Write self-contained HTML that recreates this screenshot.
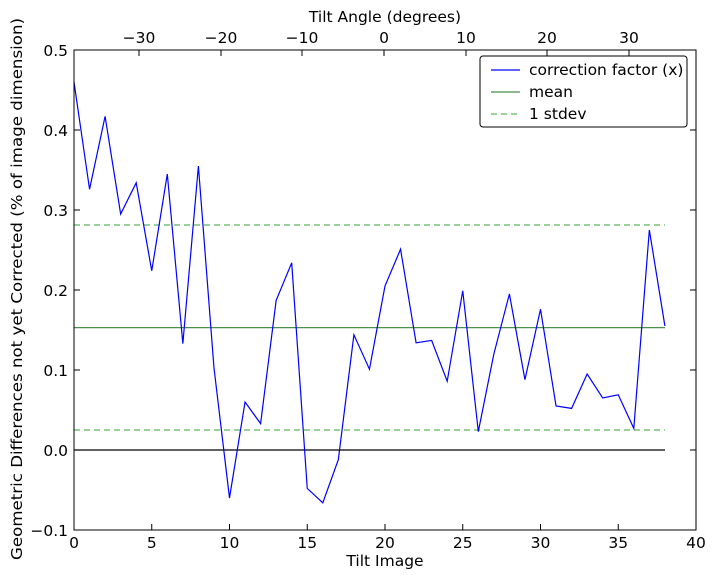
<!DOCTYPE html>
<html><head><meta charset="utf-8"><style>body{margin:0;background:#fff}svg{display:block}text{font-family:"DejaVu Sans","Liberation Sans",sans-serif;font-size:15.5px;fill:#000}</style></head>
<body>
<svg width="714" height="579" viewBox="0 0 714 579">
<rect width="714" height="579" fill="#fff"/>
<g stroke="#000" stroke-width="1">
<path d="M74 50h6M74 130h6M74 210h6M74 290h6M74 370h6M74 450h6M74 530h6M696 50h-6M696 130h-6M696 210h-6M696 290h-6M696 370h-6M696 450h-6M696 530h-6"/>
<path d="M74 530v-6M151.75 530v-6M229.5 530v-6M307.25 530v-6M385 530v-6M462.75 530v-6M540.5 530v-6M618.25 530v-6M696 530v-6"/>
<path d="M139 50v6M221 50v6M302 50v6M384 50v6M466 50v6M547 50v6M629 50v6"/>
</g>
<line x1="74" y1="450" x2="665" y2="450" stroke="#000" stroke-width="1.2"/>
<line x1="74" y1="327.6" x2="665" y2="327.6" stroke="#4a8f4a" stroke-width="1.2"/>
<line x1="74" y1="225" x2="665" y2="225" stroke="#5cb85c" stroke-width="1.2" stroke-dasharray="6,4"/>
<line x1="74" y1="430" x2="665" y2="430" stroke="#5cb85c" stroke-width="1.2" stroke-dasharray="6,4"/>
<polyline fill="none" stroke="#0000ff" stroke-width="1.2" points="74,82 89.55,189.2 105.1,116.4 120.65,214 136.2,182.8 151.75,270.8 167.3,174 182.85,343.6 198.4,166 213.95,367.6 229.5,498 245.05,402 260.6,423.6 276.15,300.4 291.7,262.8 307.25,488.4 322.8,502.8 338.35,459.6 353.9,334.8 369.45,369.2 385,286 400.55,249.2 416.1,342.8 431.65,340.4 447.2,381.2 462.75,290.8 478.3,431.6 493.85,354 509.4,294 524.95,379.6 540.5,309.2 556.05,406 571.6,408.4 587.15,374 602.7,398 618.25,394.8 633.8,428.4 649.35,230 664.9,326"/>
<rect x="74" y="50" width="622" height="480" fill="none" stroke="#000" stroke-width="1"/>
<rect x="480" y="56" width="207" height="71" rx="3" fill="#fff" stroke="#000"/>
<line x1="491" y1="70" x2="520" y2="70" stroke="#0000ff" stroke-width="1.2"/>
<line x1="491" y1="92" x2="520" y2="92" stroke="#4a8f4a" stroke-width="1.2"/>
<line x1="491" y1="114" x2="520" y2="114" stroke="#5cb85c" stroke-width="1.2" stroke-dasharray="6,4"/>
<text x="529" y="75">correction factor (x)</text>
<text x="529" y="97">mean</text>
<text x="529" y="119">1 stdev</text>
<g text-anchor="end">
<text x="68" y="56">0.5</text><text x="68" y="136">0.4</text><text x="68" y="216">0.3</text><text x="68" y="296">0.2</text><text x="68" y="376">0.1</text><text x="68" y="456">0.0</text><text x="68" y="536">−0.1</text>
</g>
<g text-anchor="middle">
<text x="74" y="548">0</text><text x="151.75" y="548">5</text><text x="229.5" y="548">10</text><text x="307.25" y="548">15</text><text x="385" y="548">20</text><text x="462.75" y="548">25</text><text x="540.5" y="548">30</text><text x="618.25" y="548">35</text><text x="696" y="548">40</text>
<text x="139" y="43">−30</text><text x="221" y="43">−20</text><text x="302" y="43">−10</text><text x="384" y="43">0</text><text x="466" y="43">10</text><text x="547" y="43">20</text><text x="629" y="43">30</text>
<text x="385" y="566">Tilt Image</text>
<text x="385" y="22">Tilt Angle (degrees)</text>
<text transform="translate(22,289) rotate(-90)" textLength="542" lengthAdjust="spacingAndGlyphs">Geometric Differences not yet Corrected (% of image dimension)</text>
</g>
</svg>
</body></html>
